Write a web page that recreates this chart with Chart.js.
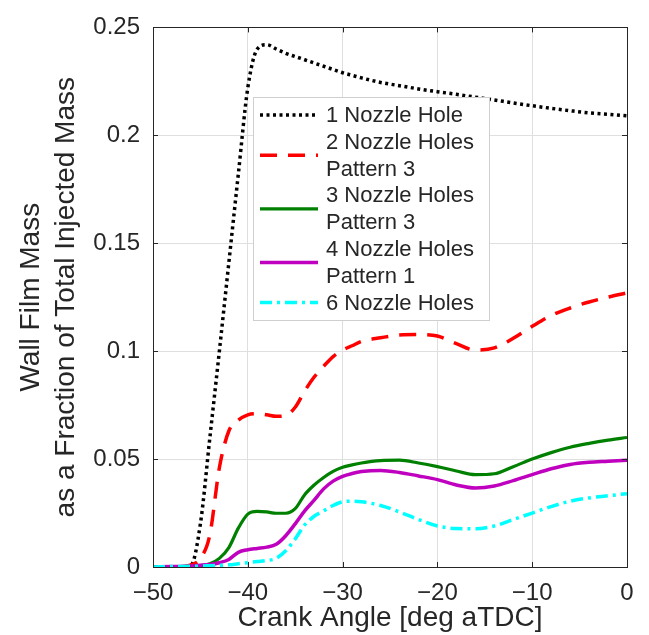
<!DOCTYPE html>
<html>
<head>
<meta charset="utf-8">
<script src="https://cdn.jsdelivr.net/npm/chart.js@4.4.1/dist/chart.umd.min.js"></script>
<style>
  html, body { margin: 0; padding: 0; background: #fff; }
  #wrap { width: 649px; height: 635px; }
</style>
</head>
<body>
<div id="wrap"><canvas id="filmChart" width="649" height="635"></canvas></div>
<script>
// crank angle samples [deg aTDC]
const crankAngle = [-50, -48, -46, -45, -44, -43, -42, -41, -40, -39, -38, -37, -36, -35, -34, -33, -32, -31, -30, -29, -28, -26, -24, -22, -20, -18, -16, -14, -12, -10, -8, -6, -4, -2, 0];

// wall film mass / total injected mass
const oneHole = [0, 0, 0.0008, 0.02, 0.06, 0.10, 0.141, 0.182, 0.222, 0.240, 0.242, 0.240, 0.238, 0.2365, 0.235, 0.2335, 0.232, 0.2305, 0.229, 0.2278, 0.2266, 0.2245, 0.223, 0.2215, 0.2202, 0.219, 0.2177, 0.2164, 0.215, 0.2137, 0.2125, 0.2114, 0.2104, 0.2097, 0.209];
const twoHolesP3 = [0, 0, 0.001, 0.004, 0.015, 0.046, 0.063, 0.068, 0.0705, 0.071, 0.0705, 0.0698, 0.0702, 0.074, 0.0815, 0.088, 0.093, 0.0975, 0.1005, 0.1025, 0.1045, 0.1062, 0.1075, 0.1077, 0.107, 0.1035, 0.1005, 0.1015, 0.106, 0.1115, 0.1165, 0.120, 0.1228, 0.125, 0.127];
const threeHolesP3 = [0, 0, 0.0003, 0.0006, 0.0015, 0.004, 0.009, 0.018, 0.0245, 0.0258, 0.0255, 0.0249, 0.0249, 0.027, 0.0335, 0.038, 0.0415, 0.0443, 0.0462, 0.0473, 0.0482, 0.0493, 0.0495, 0.0482, 0.0465, 0.0445, 0.0428, 0.0432, 0.0465, 0.050, 0.053, 0.0555, 0.0573, 0.0588, 0.060];
const fourHolesP1 = [0, 0.0002, 0.0005, 0.0008, 0.0012, 0.002, 0.0035, 0.0068, 0.008, 0.0086, 0.0092, 0.0105, 0.0145, 0.020, 0.026, 0.031, 0.0362, 0.0398, 0.042, 0.0433, 0.0442, 0.0447, 0.0438, 0.0422, 0.0405, 0.038, 0.0366, 0.0375, 0.040, 0.0428, 0.0455, 0.0475, 0.0485, 0.049, 0.0495];
const sixHoles = [0, 0.0002, 0.0003, 0.0004, 0.0006, 0.0008, 0.001, 0.0015, 0.002, 0.0025, 0.003, 0.004, 0.0075, 0.013, 0.0195, 0.0235, 0.026, 0.0285, 0.0302, 0.0305, 0.0302, 0.0285, 0.0255, 0.022, 0.019, 0.0178, 0.0177, 0.019, 0.022, 0.025, 0.028, 0.0305, 0.032, 0.033, 0.034];

const seriesLabels = ['1 Nozzle Hole', '2 Nozzle Holes\nPattern 3', '3 Nozzle Holes\nPattern 3', '4 Nozzle Holes\nPattern 1', '6 Nozzle Holes'];
const xTicks = [-50, -40, -30, -20, -10, 0];
const yTicks = [0, 0.05, 0.1, 0.15, 0.2, 0.25];

const pts = (ys) => crankAngle.map((x, i) => ({x: x, y: ys[i]}));

const TXT = '#262626';
const FONT = '"Liberation Sans", Arial, Helvetica, sans-serif';

// box around axes + inward ticks, like matlab "box on"
const boxPlugin = {
    id: 'boxTicks',
    afterDatasetsDraw(chart) {
        const {ctx, chartArea: a, scales} = chart;
        ctx.save();
        ctx.strokeStyle = TXT;
        ctx.lineWidth = 1;
        ctx.beginPath();
        xTicks.forEach(v => {
            const px = Math.round(scales.x.getPixelForValue(v)) + 0.5;
            ctx.moveTo(px, a.bottom); ctx.lineTo(px, a.bottom - 5);
            ctx.moveTo(px, a.top); ctx.lineTo(px, a.top + 5);
        });
        yTicks.forEach(v => {
            const py = Math.round(scales.y.getPixelForValue(v)) + 0.5;
            ctx.moveTo(a.left, py); ctx.lineTo(a.left + 5, py);
            ctx.moveTo(a.right, py); ctx.lineTo(a.right - 5, py);
        });
        ctx.stroke();
        ctx.strokeRect(Math.round(a.left) + 0.5, Math.round(a.top) + 0.5, Math.round(a.right - a.left), Math.round(a.bottom - a.top));
        ctx.restore();
    }
};

// legend inside the axes, labels can be two lines
const legendPlugin = {
    id: 'insideLegend',
    afterDraw(chart) {
        const ctx = chart.ctx;
        const bx = 253, by = 97, bw = 236, bh = 223;
        const rowH = 26.8;
        ctx.save();
        ctx.fillStyle = '#fff';
        ctx.fillRect(bx, by, bw, bh);
        ctx.strokeStyle = '#cfcfcf';
        ctx.lineWidth = 1;
        ctx.strokeRect(bx + 0.5, by + 0.5, bw, bh);
        ctx.font = '22px ' + FONT;
        ctx.textBaseline = 'middle';
        ctx.fillStyle = TXT;
        let cy = 115;
        chart.data.datasets.forEach(ds => {
            const lines = ds.label.split('\n');
            const sy = cy + (lines.length - 1) * rowH / 2;
            ctx.save();
            ctx.strokeStyle = ds.borderColor;
            ctx.lineWidth = ds.borderWidth;
            ctx.setLineDash(ds.borderDash || []);
            ctx.beginPath();
            ctx.moveTo(260, sy);
            ctx.lineTo(318, sy);
            ctx.stroke();
            ctx.restore();
            lines.forEach((t, i) => ctx.fillText(t, 326, cy + i * rowH + 1));
            cy += lines.length * rowH;
        });
        ctx.restore();
    }
};

const lineDefaults = {fill: false, pointRadius: 0, cubicInterpolationMode: 'monotone'};

new Chart(document.getElementById('filmChart'), {
    type: 'line',
    data: {
        datasets: [
            {...lineDefaults, label: seriesLabels[0], data: pts(oneHole), borderColor: '#000000', borderWidth: 3.5, borderDash: [3, 3.5], order: 5},
            {...lineDefaults, label: seriesLabels[1], data: pts(twoHolesP3), borderColor: '#ff0000', borderWidth: 3.5, borderDash: [17, 11], order: 4},
            {...lineDefaults, label: seriesLabels[2], data: pts(threeHolesP3), borderColor: '#008000', borderWidth: 3.2, order: 3},
            {...lineDefaults, label: seriesLabels[3], data: pts(fourHolesP1), borderColor: '#bf00bf', borderWidth: 3.5, order: 2},
            {...lineDefaults, label: seriesLabels[4], data: pts(sixHoles), borderColor: '#00ffff', borderWidth: 3.5, borderDash: [12, 5, 3, 5], order: 1}
        ]
    },
    options: {
        responsive: false,
        animation: false,
        devicePixelRatio: 1,
        layout: {padding: {left: 0, top: 17, right: 22, bottom: 0}},
        plugins: {legend: {display: false}, tooltip: {enabled: false}},
        scales: {
            x: {
                type: 'linear',
                min: -50, max: 0,
                afterBuildTicks: (s) => { s.ticks = xTicks.map(v => ({value: v})); },
                afterFit: (s) => { s.height = 68; },
                grid: {color: '#dfdfdf', drawTicks: false},
                border: {display: false},
                ticks: {
                    padding: 12,
                    color: TXT,
                    font: {family: FONT, size: 24},
                    maxRotation: 0,
                    callback: (v) => String(v).replace('-', '\u2212')
                },
                title: {
                    display: true,
                    text: 'Crank Angle [deg aTDC]',
                    color: TXT,
                    font: {family: FONT, size: 28, lineHeight: 1.2},
                    padding: {top: 0, bottom: 0}
                }
            },
            y: {
                min: 0, max: 0.25,
                afterBuildTicks: (s) => { s.ticks = yTicks.map(v => ({value: v})); },
                afterFit: (s) => { s.width = 153; },
                grid: {color: '#dfdfdf', drawTicks: false},
                border: {display: false},
                ticks: {
                    padding: 13,
                    color: TXT,
                    font: {family: FONT, size: 24},
                    callback: (v) => String(+v.toFixed(2))
                },
                title: {
                    display: true,
                    text: ['Wall Film Mass', 'as a Fraction of Total Injected Mass'],
                    color: TXT,
                    font: {family: FONT, size: 28, lineHeight: 1.25},
                    padding: {top: 14, bottom: 0}
                }
            }
        }
    },
    plugins: [boxPlugin, legendPlugin]
});
</script>
</body>
</html>
